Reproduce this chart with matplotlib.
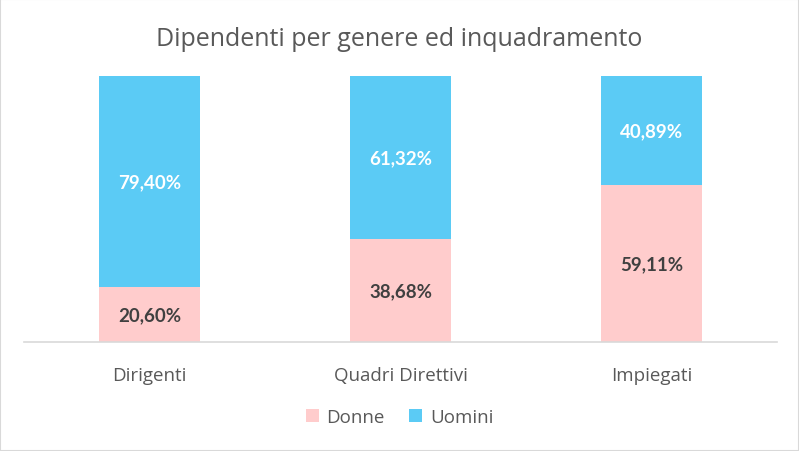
import numpy as np
from matplotlib import pyplot as plt
from matplotlib.patches import Rectangle

# dati: quote percentuali per genere
categorie = ["Dirigenti", "Quadri Direttivi", "Impiegati"]
donne = [20.60, 38.68, 59.11]
uomini = [79.40, 61.32, 40.89]

col_donne = "#FFCCCC"
col_uomini = "#5BCBF5"

plt.rcParams['font.family'] = ['Open Sans', 'DejaVu Sans']

fig = plt.figure(figsize=(7.99, 4.52), dpi=100)
ax = fig.add_axes([24 / 799, 109 / 452, 753 / 799, 266 / 452])

x = np.arange(len(categorie))
ax.bar(x, donne, width=0.4, color=col_donne, label="Donne")
ax.bar(x, uomini, width=0.4, bottom=donne, color=col_uomini, label="Uomini")

def fmt(v):
    return ("%.2f%%" % v).replace(".", ",")

for i in range(len(categorie)):
    ax.text(x[i], donne[i] / 2, fmt(donne[i]), ha="center", va="center",
            fontsize=13.5, fontweight="bold", color="#404040", family="Lato")
    ax.text(x[i], donne[i] + uomini[i] / 2, fmt(uomini[i]), ha="center", va="center",
            fontsize=13.5, fontweight="bold", color="white", family="Lato")

ax.set_xlim(-0.5, 2.5)
ax.set_ylim(0, 100)
ax.set_xticks(x)
ax.set_xticklabels(categorie, fontsize=13.5, color="#595959")
ax.tick_params(axis="x", length=0, pad=17)
ax.set_yticks([])
for s in ["top", "left", "right"]:
    ax.spines[s].set_visible(False)
ax.spines["bottom"].set_color("#D9D9D9")
ax.spines["bottom"].set_linewidth(1.2)

fig.text(0.5, 1 - 40 / 452, "Dipendenti per genere ed inquadramento", ha="center",
         va="center", fontsize=18, color="#595959")

fig.legend(loc="center", bbox_to_anchor=(0.5, 1 - 418 / 452), ncol=2, frameon=False,
           fontsize=13.5, labelcolor="#595959", handlelength=0.7, handleheight=0.7,
           handletextpad=0.4, columnspacing=1.3)

fig.patches.append(Rectangle((0, 0), 1, 1, transform=fig.transFigure, fill=False,
                             edgecolor="#D9D9D9", linewidth=1.5))

plt.savefig("out.png", dpi=100)
